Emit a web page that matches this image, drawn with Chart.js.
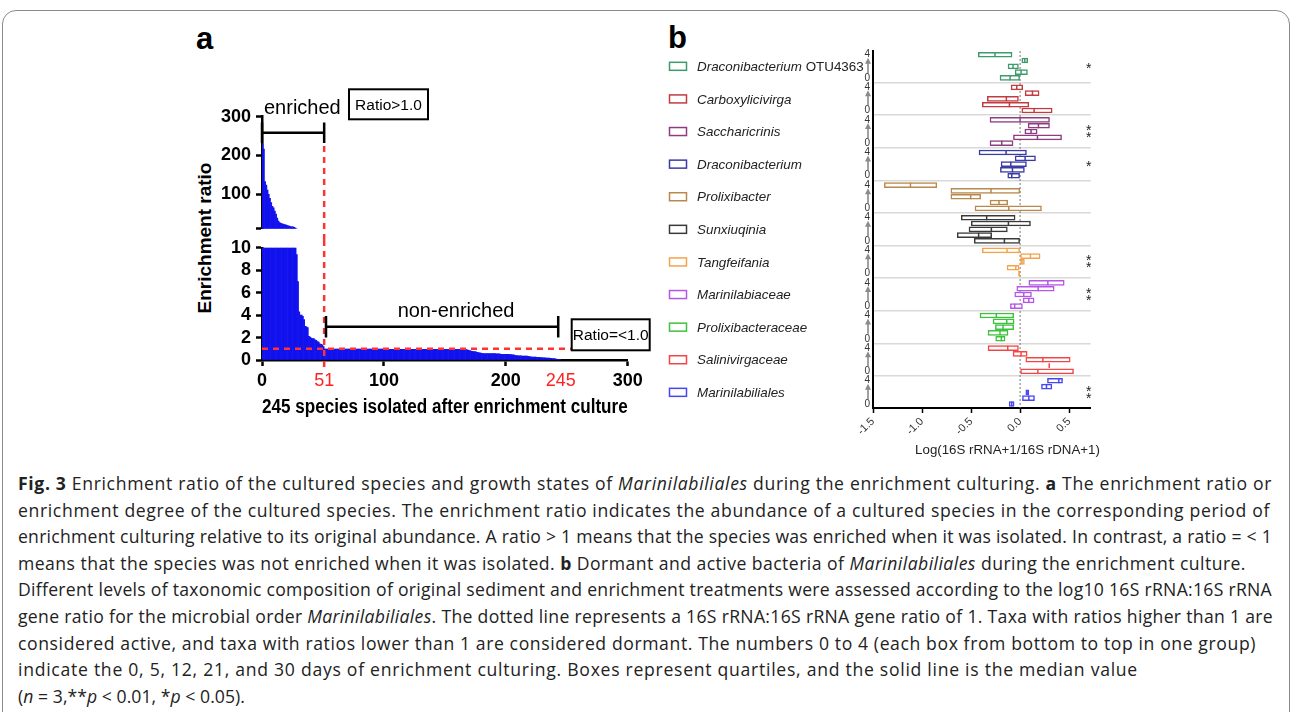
<!DOCTYPE html>
<html>
<head>
<meta charset="utf-8">
<script src="https://cdn.jsdelivr.net/npm/chart.js@4.4.1/dist/chart.umd.min.js"></script>
<style>
html, body { margin: 0; padding: 0; background: #fff; }
body { width: 1292px; height: 712px; position: relative; overflow: hidden; font-family: 'Liberation Sans', Arial, sans-serif; }
.frame { position: absolute; left: 2px; top: 10px; width: 1286px; height: 740px; border: 1px solid #8a8a8a; border-radius: 14px; }
.panel { position: absolute; font-weight: bold; font-size: 31px; line-height: 1; }
.ytitle { position: absolute; left: 205px; top: 238px; transform: translate(-50%, -50%) rotate(-90deg); font-weight: bold; font-size: 19px; white-space: nowrap; }
canvas { position: absolute; }
#caption { position: absolute; left: 18px; top: 470px; font-family: 'Open Sans', sans-serif; font-size: 17.6px; line-height: 26.6px; color: #222; white-space: nowrap; }
#caption div { height: 26.6px; }
#caption span { display: inline-block; }
</style>
</head>
<body>
<div class="frame"></div>
<div class="panel" style="left:196px;top:23px">a</div>
<div class="panel" style="left:668px;top:22px">b</div>
<div class="ytitle">Enrichment ratio</div>
<canvas id="topA" width="470" height="168" style="left:190px;top:80px"></canvas>
<canvas id="botA" width="470" height="188" style="left:190px;top:232px"></canvas>
<canvas id="chartB" width="450" height="450" style="left:660px;top:20px"></canvas>
<div id="caption">
<div><span data-w="1254"><b>Fig. 3</b> Enrichment ratio of the cultured species and growth states of <i>Marinilabiliales</i> during the enrichment culturing. <b>a</b> The enrichment ratio or</span></div>
<div><span data-w="1252">enrichment degree of the cultured species. The enrichment ratio indicates the abundance of a cultured species in the corresponding period of</span></div>
<div><span data-w="1254">enrichment culturing relative to its original abundance. A ratio &gt; 1 means that the species was enriched when it was isolated. In contrast, a ratio = &lt; 1</span></div>
<div><span data-w="1228">means that the species was not enriched when it was isolated. <b>b</b> Dormant and active bacteria of <i>Marinilabiliales</i> during the enrichment culture.</span></div>
<div><span data-w="1254">Different levels of taxonomic composition of original sediment and enrichment treatments were assessed according to the log10 16S rRNA:16S rRNA</span></div>
<div><span data-w="1255">gene ratio for the microbial order <i>Marinilabiliales</i>. The dotted line represents a 16S rRNA:16S rRNA gene ratio of 1. Taxa with ratios higher than 1 are</span></div>
<div><span data-w="1238">considered active, and taxa with ratios lower than 1 are considered dormant. The numbers 0 to 4 (each box from bottom to top in one group)</span></div>
<div><span data-w="1120">indicate the 0, 5, 12, 21, and 30 days of enrichment culturing. Boxes represent quartiles, and the solid line is the median value</span></div>
<div><span data-w="227">(<i>n</i> = 3,**<i>p</i> &lt; 0.01, *<i>p</i> &lt; 0.05).</span></div>
</div>
<script>
// ---- panel a: enrichment ratio of the 245 isolated species (sorted) ----
const ratios = [
  230, 216, 132, 123, 110, 99, 89, 78, 68, 64,
  56, 48, 38, 30, 26, 24, 23, 22, 21, 20,
  19, 18, 17, 16, 15, 15, 14, 12, 9.4, 7.0,
  4.3, 4.0, 4.0, 3.9, 3.6, 3.0, 2.95, 2.9, 2.1, 2.05,
  1.95, 1.9, 1.9, 1.8, 1.75, 1.65, 1.6, 1.45, 1.4, 1.35,
  1.2,
  0.98, 0.98, 0.98, 0.98, 0.98, 0.98, 0.98, 0.98, 0.98, 0.98,
  0.98, 0.98, 0.98, 0.98, 0.98, 0.98, 0.98, 0.98, 0.98, 0.98,
  0.97, 0.97, 0.97, 0.97, 0.97, 0.97, 0.97, 0.97, 0.97, 0.97,
  0.97, 0.97, 0.97, 0.97, 0.97, 0.97, 0.97, 0.97, 0.97, 0.97,
  0.97, 0.97, 0.97, 0.97, 0.97, 0.97, 0.97, 0.97, 0.97, 0.97,
  0.96, 0.96, 0.96, 0.96, 0.96, 0.96, 0.96, 0.96, 0.96, 0.96,
  0.96, 0.96, 0.96, 0.96, 0.96, 0.96, 0.96, 0.96, 0.96, 0.96,
  0.95, 0.95, 0.95, 0.95, 0.95, 0.95, 0.95, 0.95, 0.95, 0.95,
  0.95, 0.95, 0.95, 0.95, 0.95, 0.95, 0.95, 0.95, 0.95, 0.95,
  0.95, 0.95, 0.95, 0.95, 0.95, 0.95, 0.95, 0.95, 0.95, 0.95,
  0.95, 0.95, 0.95, 0.95, 0.95, 0.95, 0.95, 0.95, 0.95, 0.95,
  0.95, 0.95, 0.95, 0.94, 0.94, 0.93, 0.92, 0.9, 0.86, 0.83,
  0.8, 0.78, 0.76, 0.74, 0.72, 0.68, 0.66, 0.64, 0.62, 0.6,
  0.58, 0.58, 0.58, 0.58, 0.58, 0.58, 0.58, 0.58, 0.58, 0.58,
  0.57, 0.56, 0.56, 0.55, 0.52, 0.5, 0.5, 0.5, 0.5, 0.5,
  0.5, 0.5, 0.49, 0.48, 0.47, 0.45, 0.42, 0.4, 0.39, 0.38,
  0.37, 0.37, 0.36, 0.36, 0.35, 0.35, 0.34, 0.33, 0.31, 0.29,
  0.27, 0.26, 0.25, 0.25, 0.24, 0.24, 0.23, 0.22, 0.21, 0.2,
  0.2, 0.19, 0.18, 0.17, 0.16, 0.15, 0.14, 0.13, 0.12, 0.11,
  0.09, 0.07, 0.05, 0.03
];
const speciesTicks = [0, 51, 100, 200, 245, 300];
const redTicks = [51, 245];
const upperTicks = [10, 100, 200, 300];
const lowerTicks = [0, 2, 4, 6, 8, 10];
const enrichedCount = 51;
const speciesTotal = 245;
const cutoff = 1.0;

// ---- panel b: quartiles and medians, rows = day index 0..4 (0, 5, 12, 21, 30 d) ----
const groupNames = ['Draconibacterium OTU4363', 'Carboxylicivirga', 'Saccharicrinis', 'Draconibacterium',
  'Prolixibacter', 'Sunxiuqinia', 'Tangfeifania', 'Marinilabiaceae', 'Prolixibacteraceae',
  'Salinivirgaceae', 'Marinilabiliales'];
const groupColors = ['#3d9a6c', '#c23b40', '#8e3d82', '#3b3ba6', '#b8884c', '#3a3a3a',
  '#f5a24c', '#b457e6', '#3ec23e', '#f24646', '#4747f2'];
const q1 = [
  [-0.205, -0.051, -0.123, 0.017, -0.426],
  [0.017, -0.385, -0.334, 0.051, -0.092],
  [-0.307, -0.068, 0.048, 0.082, -0.307],
  [-0.126, -0.201, -0.194, -0.051, -0.419],
  [-0.460, -0.307, -0.706, -0.706, -1.384],
  [-0.467, -0.641, -0.521, -0.498, -0.600],
  [-0.017, -0.133, 0, 0, -0.385],
  [-0.099, 0.031, -0.055, -0.034, 0.089],
  [-0.249, -0.327, -0.252, -0.276, -0.409],
  [0, 0.297, 0.058, -0.072, -0.327],
  [-0.112, 0.024, 0.058, 0.218, 0.279]
];
const q3 = [
  [0, 0.075, -0.017, 0.078, -0.082],
  [0.327, 0.089, -0.017, 0.194, 0.027],
  [-0.072, 0.423, 0.174, 0.300, 0.300],
  [0, 0.044, 0.065, 0.157, 0.065],
  [0.218, -0.126, -0.402, -0.003, -0.849],
  [0, -0.290, -0.130, 0.106, -0.051],
  [0, -0.010, 0.044, 0.204, 0],
  [0.024, 0.143, 0.116, 0.348, 0.450],
  [-0.153, -0.123, -0.065, -0.061, -0.065],
  [0.545, 0.297, 0.511, 0.072, -0.017],
  [-0.061, 0.147, 0.089, 0.324, 0.433]
];
const medians = [
  [-0.102, 0.010, -0.072, 0.048, -0.256],
  [0.143, -0.109, -0.140, 0.126, -0.034],
  [-0.187, 0.177, 0.112, 0.187, 0],
  [-0.085, -0.078, -0.095, 0.051, -0.143],
  [-0.116, -0.215, -0.504, -0.297, -1.118],
  [-0.160, -0.423, -0.293, -0.119, -0.341],
  [-0.008, -0.044, 0.020, 0.106, -0.133],
  [-0.055, 0.089, 0.037, 0.184, 0.283],
  [-0.191, -0.205, -0.174, -0.136, -0.242],
  [0.181, 0.297, 0.232, 0.010, -0.126],
  [-0.085, 0.089, 0.072, 0.269, 0.395]
];
const significance = ['*', '', '**', '*', '', '', '**', '**', '', '', '**'];
const logTicks = [-1.5, -1.0, -0.5, 0, 0.5];

// caption lines: stretch letter spacing so each line ends where it does in the figure
document.querySelectorAll('#caption span').forEach(sp => {
  const natural = sp.getBoundingClientRect().width;
  const target = +sp.dataset.w;
  sp.style.letterSpacing = ((target - natural) / sp.textContent.length).toFixed(3) + 'px';
});

const FONT = "'Liberation Sans', Arial, sans-serif";
Chart.defaults.font.family = FONT;
Chart.defaults.color = '#000';

// ---------------- panel a ----------------
const barPoints = ratios.map((v, i) => ({x: i + 0.5, y: v}));
const isRed = c => !!(c.tick && redTicks.includes(c.tick.value));

function panelA(id, yMin, yMax, yTicks, showX, pad, notes) {
  return new Chart(document.getElementById(id), {
    type: 'bar',
    data: {datasets: [{data: barPoints, backgroundColor: '#1212ee', borderWidth: 0,
      barPercentage: 1, categoryPercentage: 1}]},
    options: {
      responsive: false, animation: false, devicePixelRatio: 1,
      layout: {padding: pad},
      plugins: {legend: {display: false}, tooltip: {enabled: false}},
      scales: {
        x: {
          type: 'linear', min: 0, max: 300, display: showX, offset: false,
          afterBuildTicks: s => { s.ticks = speciesTicks.map(v => ({value: v})); },
          afterFit: s => { if (showX) s.height = 60; },
          border: {color: '#000', width: 2.5},
          grid: {offset: false, drawOnChartArea: false, tickLength: 6, tickWidth: 2.5,
            tickColor: c => isRed(c) ? 'rgba(0,0,0,0)' : '#000'},
          ticks: {padding: 4, maxRotation: 0, autoSkip: false,
            color: c => isRed(c) ? '#ff2222' : '#000',
            font: c => ({size: 18, weight: isRed(c) ? 'normal' : 'bold'})},
          title: {display: true, text: speciesTotal + ' species isolated after enrichment culture',
            font: {size: 20, weight: 'bold'}, padding: {top: 0, bottom: 1}, color: '#000'}
        },
        y: {
          min: yMin, max: yMax,
          afterBuildTicks: s => { s.ticks = yTicks.map(v => ({value: v})); },
          afterFit: s => { s.width = 72; },
          border: {color: '#000', width: 2.5},
          grid: {drawOnChartArea: false, tickLength: 6, tickWidth: 2.5, tickColor: '#000'},
          ticks: {padding: 5, autoSkip: false, font: {size: 18, weight: 'bold'}, color: '#000',
            callback: v => (yMin > 0 && v === yMin) ? '' : v}
        }
      }
    },
    plugins: [notes]
  });
}

function dashed(ctx, x1, y1, x2, y2) {
  ctx.save();
  ctx.strokeStyle = '#ff3333';
  ctx.lineWidth = 2.5;
  ctx.setLineDash([6, 5]);
  ctx.beginPath();
  ctx.moveTo(x1, y1);
  ctx.lineTo(x2, y2);
  ctx.stroke();
  ctx.restore();
}

function bracket(ctx, xa, xb, y, h) {
  ctx.save();
  ctx.strokeStyle = '#000';
  ctx.lineWidth = 2.5;
  ctx.beginPath();
  ctx.moveTo(xa, y); ctx.lineTo(xb, y);
  ctx.moveTo(xa, y - h); ctx.lineTo(xa, y + h);
  ctx.moveTo(xb, y - h); ctx.lineTo(xb, y + h);
  ctx.stroke();
  ctx.restore();
}

function labelBox(ctx, x, y, w, h, text) {
  ctx.save();
  ctx.strokeStyle = '#000';
  ctx.lineWidth = 2;
  ctx.strokeRect(x, y, w, h);
  ctx.fillStyle = '#000';
  ctx.font = '15.5px ' + FONT;
  ctx.textAlign = 'center';
  ctx.textBaseline = 'middle';
  ctx.fillText(text, x + w / 2, y + h / 2 + 1);
  ctx.restore();
}

const upperNotes = {
  id: 'upperNotes',
  afterDraw(chart) {
    const {ctx, scales: {x}} = chart;
    const x0 = x.getPixelForValue(0);
    const xe = x.getPixelForValue(enrichedCount);
    bracket(ctx, x0, xe, 52.7, 10.3);
    dashed(ctx, xe, 66, xe, 160);
    ctx.save();
    ctx.fillStyle = '#000';
    ctx.font = '20px ' + FONT;
    ctx.fillText('enriched', 74, 34);
    ctx.restore();
    labelBox(ctx, 159, 9.3, 79, 30, 'Ratio>1.0');
  }
};

const lowerNotes = {
  id: 'lowerNotes',
  afterDatasetsDraw(chart) {
    const {ctx, scales: {x, y}} = chart;
    const xe = x.getPixelForValue(enrichedCount);
    const yc = y.getPixelForValue(cutoff);
    dashed(ctx, x.getPixelForValue(0), yc, 381.7, yc);
    dashed(ctx, xe, 8, xe, 140);
    bracket(ctx, x.getPixelForValue(enrichedCount + 1.5), x.getPixelForValue(speciesTotal - 2), 94.7, 10.8);
    ctx.save();
    ctx.fillStyle = '#000';
    ctx.font = '20px ' + FONT;
    ctx.textAlign = 'center';
    ctx.fillText('non-enriched', 266, 85);
    ctx.restore();
    labelBox(ctx, 381.7, 87.3, 78, 31, 'Ratio=<1.0');
  }
};

panelA('topA', 10, 300, upperTicks, false, {left: 0, top: 36.7, right: 32.3, bottom: 19.2}, upperNotes);
panelA('botA', 0, 10, lowerTicks, true, {left: 0, top: 15.7, right: 32.3, bottom: 0}, lowerNotes);

// ---------------- panel b ----------------
const ROW_STEP = 0.178;
const rowPos = (g, r) => g + (2 - r) * ROW_STEP;
const isSep = v => Math.abs(v - Math.floor(v) - 0.5) < 0.01;

const boxSets = groupNames.map((name, g) => ({
  type: 'bar', label: name, indexAxis: 'y', grouped: false, order: 2,
  data: q1[g].map((lo, r) => ({y: rowPos(g, r), x: [lo, q3[g][r]]})),
  backgroundColor: '#fff', borderColor: groupColors[g], borderWidth: 1.5,
  borderSkipped: false, barThickness: 5, maxBarThickness: 5
}));
const medianSets = groupNames.map((name, g) => ({
  type: 'scatter', label: name + ' median', order: 1,
  data: medians[g].map((m, r) => ({x: m, y: rowPos(g, r)})),
  pointStyle: 'line', rotation: 90, radius: 2.4, borderColor: groupColors[g], borderWidth: 1.5
}));

const notesB = {
  id: 'notesB',
  beforeDatasetsDraw(chart) {
    const {ctx, chartArea, scales: {x}} = chart;
    const x0 = x.getPixelForValue(0);
    ctx.save();
    ctx.strokeStyle = '#777';
    ctx.lineWidth = 1;
    ctx.setLineDash([2, 2]);
    ctx.beginPath();
    ctx.moveTo(x0, chartArea.top);
    ctx.lineTo(x0, chartArea.bottom);
    ctx.stroke();
    ctx.restore();
  },
  afterDraw(chart) {
    const {ctx, chartArea, scales: {y}} = chart;
    ctx.save();
    groupNames.forEach((name, g) => {
      const yc = y.getPixelForValue(g);
      // legend swatch + name
      ctx.strokeStyle = groupColors[g];
      ctx.lineWidth = 1.5;
      ctx.strokeRect(9.5, yc - 4, 17, 8);
      ctx.fillStyle = '#222';
      ctx.textBaseline = 'middle';
      ctx.textAlign = 'left';
      const parts = name.split(' ');
      ctx.font = 'italic 13.4px ' + FONT;
      ctx.fillText(parts[0], 37, yc + 1);
      if (parts[1]) {
        const w = ctx.measureText(parts[0] + ' ').width;
        ctx.font = '13.4px ' + FONT;
        ctx.fillText(parts[1], 37 + w, yc + 1);
      }
      // arrow from day 0 up to day 4
      const ax = chartArea.left - 5;
      const yTop = y.getPixelForValue(rowPos(g, 4)) + 3;
      const yBot = y.getPixelForValue(rowPos(g, 0)) - 5;
      ctx.strokeStyle = '#8a8a8a';
      ctx.fillStyle = '#8a8a8a';
      ctx.lineWidth = 1.6;
      ctx.beginPath();
      ctx.moveTo(ax, yBot);
      ctx.lineTo(ax, yTop + 5);
      ctx.stroke();
      ctx.beginPath();
      ctx.moveTo(ax, yTop);
      ctx.lineTo(ax - 3, yTop + 6);
      ctx.lineTo(ax + 3, yTop + 6);
      ctx.closePath();
      ctx.fill();
      // significance stars
      const s = significance[g];
      ctx.fillStyle = '#222';
      ctx.font = '14px ' + FONT;
      ctx.textAlign = 'center';
      if (s.length === 1) {
        ctx.fillText('*', chartArea.right - 2, yc + 3);
      } else if (s.length === 2) {
        ctx.fillText('*', chartArea.right - 2, yc - 0.5);
        ctx.fillText('*', chartArea.right - 2, yc + 6.5);
      }
    });
    ctx.fillStyle = '#222';
    ctx.font = '13.3px ' + FONT;
    ctx.textAlign = 'center';
    ctx.textBaseline = 'middle';
    ctx.fillText('Log(16S rRNA+1/16S rDNA+1)', 347.5, 430);
    ctx.restore();
  }
};

new Chart(document.getElementById('chartB'), {
  type: 'bar',
  data: {datasets: [...boxSets, ...medianSets]},
  options: {
    responsive: false, animation: false, devicePixelRatio: 1,
    indexAxis: 'y',
    layout: {padding: {left: 197, top: 31, right: 19.3, bottom: 12}},
    plugins: {legend: {display: false}, tooltip: {enabled: false}},
    scales: {
      x: {
        type: 'linear', min: -1.5, max: 0.72, offset: false,
        afterBuildTicks: s => { s.ticks = logTicks.map(v => ({value: v})); },
        afterFit: s => { s.height = 50; },
        border: {color: '#000', width: 2},
        grid: {offset: false, drawOnChartArea: false, tickLength: 5, tickWidth: 1.5, tickColor: '#000'},
        ticks: {minRotation: 45, maxRotation: 45, padding: 2, autoSkip: false,
          font: {size: 11}, color: '#333', callback: v => v.toFixed(1)}
      },
      y: {
        type: 'linear', reverse: true, min: -0.47, max: 10.48, offset: false,
        afterBuildTicks: s => {
          const t = [];
          groupNames.forEach((_, g) => {
            t.push({value: rowPos(g, 4)});
            t.push({value: rowPos(g, 0)});
            if (g < groupNames.length - 1) t.push({value: g + 0.5});
          });
          s.ticks = t;
        },
        afterFit: s => { s.width = 16; },
        border: {color: '#000', width: 2},
        grid: {offset: false, drawTicks: false, lineWidth: 1.5,
          color: c => (c.tick && isSep(c.tick.value)) ? '#d9d9d9' : 'rgba(0,0,0,0)'},
        ticks: {padding: 3, autoSkip: false, font: {size: 10}, color: '#333',
          callback: v => isSep(v) ? '' : (v < Math.round(v) ? '4' : '0')}
      }
    }
  },
  plugins: [notesB]
});
</script>
</body>
</html>
